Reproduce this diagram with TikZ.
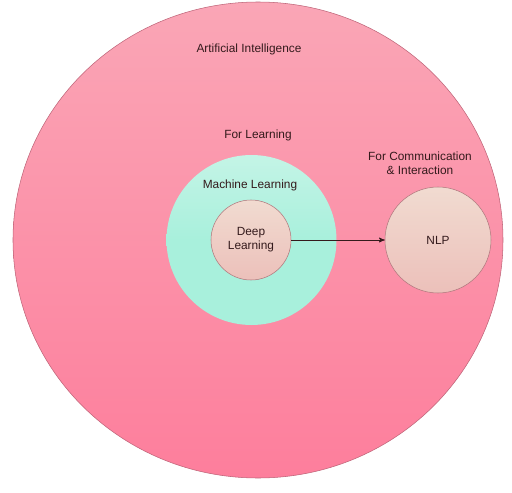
\documentclass[tikz,border=0pt]{standalone}
\usepackage{fontspec}
\setmainfont{Liberation Sans}
\usetikzlibrary{arrows,shapes.geometric}
\definecolor{aitop}{RGB}{250,166,182}
\definecolor{aibot}{RGB}{253,126,156}
\definecolor{aiedge}{RGB}{190,100,120}
\definecolor{mlfill}{RGB}{168,240,220}
\definecolor{mltop}{RGB}{196,244,230}
\definecolor{peach}{RGB}{236,207,193}
\definecolor{peachbot}{RGB}{236,192,186}
\definecolor{peachedge}{RGB}{176,120,125}
\definecolor{txt}{RGB}{52,26,28}
\begin{document}
\begin{tikzpicture}[x=0.75pt,y=-0.75pt,>=stealth',font=\fontsize{8.9}{10.5}\selectfont]
  \tikzstyle{every node}=[text=txt,align=center]
  \tikzstyle{field}=[ellipse,draw=aiedge,line width=0.4pt,inner sep=0pt,
                     top color=aitop,bottom color=aibot]
  \tikzstyle{branch}=[circle,inner sep=0pt,top color=mltop,bottom color=mlfill,
                      middle color=mlfill]
  \tikzstyle{topic}=[circle,draw=peachedge,line width=0.4pt,inner sep=0pt,
                     top color=peach!75!white,middle color=peach,bottom color=peachbot]
  \useasboundingbox (0,0) rectangle (512,493);
  % outer field
  \node [field,minimum width=367.5pt,minimum height=357pt] (ai) at (258,240) {};
  \node (ailabel) at (249,49) {Artificial Intelligence};
  % learning branch
  \node (forlearn) at (258,135) {For Learning};
  \node [branch,minimum size=127.5pt] (ml) at (251.5,240) {};
  \node (mllabel) at (250,185) {Machine Learning};
  \node [topic,minimum size=60pt] (dl) at (251,240) {Deep\\Learning};
  % communication branch
  \node (forcomm) at (420,163) {For Communication\\\& Interaction};
  \node [topic,minimum size=79.5pt] (nlp) at (438,240) {NLP};
  \draw [->,txt,line width=0.6pt] (dl) -- (nlp);
\end{tikzpicture}
\end{document}
